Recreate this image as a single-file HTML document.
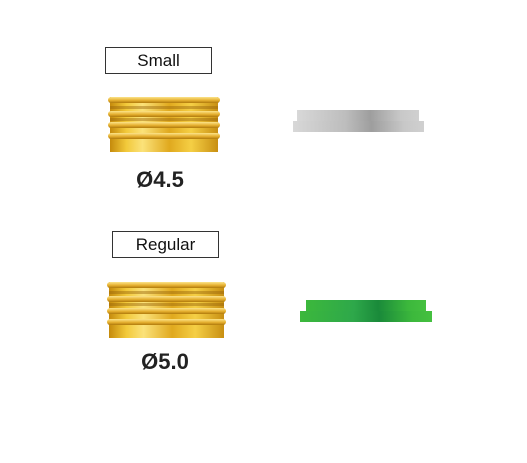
<!DOCTYPE html>
<html><head><meta charset="utf-8"><style>
body{margin:0;width:527px;height:463px;background:#fff;position:relative;overflow:hidden;font-family:"Liberation Sans",sans-serif}
.abs{position:absolute}
.box{border:1px solid #333;box-sizing:border-box;font-size:17px;text-align:center;color:#111}
.lbl{font-size:22px;font-weight:bold;color:#222;text-align:center}
.gold{background:linear-gradient(90deg,#c58a0c 0%,#f2c93a 15%,#fbe27a 30%,#e0a91e 55%,#f5cf45 75%,#c88f12 100%)}
.ring{position:absolute;left:-2px;right:-2px;height:6px;border-radius:3px;background:linear-gradient(180deg,#fbe48a,#e6b030 55%,#b07a0c)}
.groove{position:absolute;left:0;right:0;height:3px;background:rgba(150,100,10,0.45)}
.silver{background:linear-gradient(90deg,#d8d8d8,#bdbdbd 40%,#9e9e9e 60%,#c8c8c8 85%,#d0d0d0)}
.green{background:linear-gradient(90deg,#3cb83c,#2ea84a 40%,#1a8a3a 60%,#3cb83c 85%,#45c040)}
</style></head><body>
<div class="abs box" style="left:105px;top:47px;width:107px;height:27px;line-height:25px">Small</div>
<div class="abs gold" style="left:110px;top:97px;width:108px;height:55px">
 <div class="ring" style="top:0"></div><div class="groove" style="top:9px"></div><div class="ring" style="top:14px"></div><div class="groove" style="top:21px"></div><div class="ring" style="top:25px"></div><div class="ring" style="top:36px"></div>
</div>
<div class="abs lbl" style="left:110px;top:167px;width:100px">Ø4.5</div>
<div class="abs silver" style="left:297px;top:110px;width:122px;height:12px"></div>
<div class="abs silver" style="left:293px;top:121px;width:131px;height:11px"></div>

<div class="abs box" style="left:112px;top:231px;width:107px;height:27px;line-height:25px">Regular</div>
<div class="abs gold" style="left:109px;top:282px;width:115px;height:56px">
 <div class="ring" style="top:0"></div><div class="groove" style="top:9px"></div><div class="ring" style="top:14px"></div><div class="groove" style="top:21px"></div><div class="ring" style="top:26px"></div><div class="ring" style="top:37px"></div>
</div>
<div class="abs lbl" style="left:115px;top:349px;width:100px">Ø5.0</div>
<div class="abs green" style="left:306px;top:300px;width:120px;height:12px"></div>
<div class="abs green" style="left:300px;top:311px;width:132px;height:11px"></div>
</body></html>
